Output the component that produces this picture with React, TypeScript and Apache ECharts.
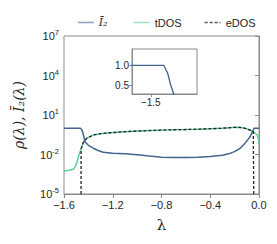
import React, { useEffect, useRef } from "react";
import * as echarts from "echarts";

// ---- data ----
const i2Lambda = [-1.6, -1.465, -1.455, -1.447, -1.439, -1.428, -1.4, -1.36, -1.32, -1.278, -1.2, -1.1, -1.0, -0.9, -0.8, -0.7, -0.6, -0.5, -0.4, -0.3, -0.25, -0.2, -0.15, -0.115, -0.09, -0.074, -0.06, -0.047, -0.04, 0.0];
const i2Values = [1.0, 1.0, 0.8, 0.5, 0.27, 0.093, 0.05, 0.03, 0.02, 0.015, 0.0126, 0.0115, 0.0095, 0.0076, 0.0063, 0.0059, 0.0058, 0.0062, 0.0071, 0.0089, 0.0112, 0.0166, 0.032, 0.071, 0.14, 0.22, 0.4, 0.72, 1.0, 1.0];

const tdosLambda = [-1.6, -1.56, -1.524, -1.51, -1.496, -1.482, -1.463, -1.442, -1.414, -1.36, -1.3, -1.223, -1.1, -1.0, -0.9, -0.8, -0.7, -0.6, -0.5, -0.4, -0.3, -0.2, -0.15, -0.115, -0.074, -0.047, -0.03, -0.016, -0.005, 0.0];
const tdosValues = [5.6e-4, 6.3e-4, 7.6e-4, 1.1e-3, 2.1e-3, 6.8e-3, 0.022, 0.083, 0.17, 0.3, 0.38, 0.45, 0.54, 0.6, 0.66, 0.71, 0.76, 0.79, 0.83, 0.91, 0.98, 1.15, 1.12, 0.98, 0.72, 0.54, 0.42, 0.3, 0.16, 0.074];

const edosLambda = [-1.46, -1.46, -1.442, -1.414, -1.36, -1.3, -1.223, -1.1, -1.0, -0.9, -0.8, -0.7, -0.6, -0.5, -0.4, -0.3, -0.2, -0.15, -0.115, -0.074, -0.047, -0.043, -0.043];
const edosValues = [1e-5, 0.025, 0.083, 0.17, 0.3, 0.38, 0.45, 0.54, 0.6, 0.66, 0.71, 0.76, 0.79, 0.83, 0.91, 0.98, 1.15, 1.12, 0.98, 0.72, 0.54, 0.5, 1e-5];

const yTickValues = [1e-5, 1e-2, 1e1, 1e4, 1e7];
const xTickValues = [-1.6, -1.2, -0.8, -0.4, 0.0];
const insetYTicks = [0.5, 1.0];
const insetXTicks = [-1.5];

const seriesNames = ["Ī₂", "tDOS", "eDOS"];

const zip = (a: number[], b: number[]) => a.map((x, i) => [x, b[i]]);

const BLUE = "#46628f";
const GREEN = "#5ccf97";
const AXIS = "#8a8a8a";
const TEXT = "#262626";
const SANS = "'Liberation Sans', Arial, sans-serif";
const SERIF = "'DejaVu Serif', 'Liberation Serif', serif";

const fmtDec = (v: number) => (Math.abs(v) < 1e-9 ? "0.0" : v.toFixed(1).replace("-", "−"));

export default function App() {
  const ref = useRef<HTMLDivElement>(null);
  useEffect(() => {
    if (!ref.current) return;
    const chart = echarts.init(ref.current, null, { renderer: "svg" });
    const i2Data = zip(i2Lambda, i2Values);
    const legendBase = { top: 12, itemWidth: 16, itemHeight: 10, itemStyle: { opacity: 0 } };
    const option: any = {
      animation: false,
      backgroundColor: "#ffffff",
      legend: [
        {
          ...legendBase, left: 72,
          data: [{ name: seriesNames[0], textStyle: { fontFamily: SERIF, fontStyle: "italic", fontSize: 11, color: TEXT } }],
          lineStyle: { color: "#8fa0c0", width: 1.5 },
        },
        {
          ...legendBase, left: 128,
          data: [seriesNames[1]], textStyle: { fontFamily: SANS, fontSize: 11, color: TEXT },
          lineStyle: { color: "#a3e3c3", width: 1.5 },
        },
        {
          ...legendBase, left: 199,
          data: [seriesNames[2]], textStyle: { fontFamily: SANS, fontSize: 11, color: TEXT },
          lineStyle: { color: "#555555", width: 1.3 },
        },
      ],
      grid: [
        { left: 64, right: 18, top: 36, bottom: 50, show: true, borderColor: AXIS, borderWidth: 1 },
        { left: 132, width: 65, top: 49, height: 45, show: true, borderColor: AXIS, borderWidth: 1 },
      ],
      xAxis: [
        {
          type: "value", gridIndex: 0, min: -1.6, max: 0,
          name: "λ", nameLocation: "middle", nameGap: 23,
          nameTextStyle: { fontFamily: SERIF, fontSize: 15, color: TEXT },
          axisLine: { show: true, onZero: false, lineStyle: { color: AXIS } },
          axisTick: { show: true, length: 4, lineStyle: { color: AXIS }, customValues: xTickValues },
          axisLabel: { fontFamily: SANS, fontSize: 11, color: TEXT, margin: 5, formatter: fmtDec, customValues: xTickValues },
          splitLine: { show: false },
        },
        {
          type: "value", gridIndex: 1, min: -1.55, max: -1.377,
          axisLine: { show: true, onZero: false, lineStyle: { color: AXIS } },
          axisTick: { show: true, length: 3, lineStyle: { color: AXIS }, customValues: insetXTicks },
          axisLabel: { fontFamily: SANS, fontSize: 10, color: TEXT, margin: 3, formatter: fmtDec, customValues: insetXTicks },
          splitLine: { show: false },
        },
      ],
      yAxis: [
        {
          type: "log", gridIndex: 0, min: 1e-5, max: 1e7, logBase: 10,
          name: "ρ(λ), Ī₂(λ)", nameLocation: "middle", nameGap: 38, nameRotate: 90,
          nameTextStyle: { fontFamily: SERIF, fontStyle: "italic", fontSize: 14, color: TEXT },
          axisLine: { show: true, lineStyle: { color: AXIS } },
          axisTick: { show: true, length: 4, lineStyle: { color: AXIS }, customValues: yTickValues },
          axisLabel: {
            fontFamily: SANS, fontSize: 11, color: TEXT, margin: 5, customValues: yTickValues,
            formatter: (v: number) => `{b|10}{s|${Math.round(Math.log10(v))}}`,
            rich: {
              b: { fontFamily: SANS, fontSize: 11, color: TEXT },
              s: { fontFamily: SANS, fontSize: 7.5, color: TEXT, padding: [0, 0, 7, 0] },
            },
          },
          splitLine: { show: false },
        },
        {
          type: "value", gridIndex: 1, min: 0.27, max: 1.42,
          axisLine: { show: true, lineStyle: { color: AXIS } },
          axisTick: { show: true, length: 3, lineStyle: { color: AXIS }, customValues: insetYTicks },
          axisLabel: { fontFamily: SANS, fontSize: 10, color: TEXT, margin: 3, formatter: (v: number) => v.toFixed(1), customValues: insetYTicks },
          splitLine: { show: false },
        },
      ],
      series: [
        {
          name: seriesNames[1], type: "line", xAxisIndex: 0, yAxisIndex: 0, symbol: "none", clip: true,
          data: zip(tdosLambda, tdosValues),
          lineStyle: { color: GREEN, width: 1.5 }, itemStyle: { color: GREEN }, z: 2,
        },
        {
          name: seriesNames[0], type: "line", xAxisIndex: 0, yAxisIndex: 0, symbol: "none", clip: true,
          data: i2Data,
          lineStyle: { color: BLUE, width: 1.5 }, itemStyle: { color: BLUE }, z: 3,
        },
        {
          name: seriesNames[2], type: "line", xAxisIndex: 0, yAxisIndex: 0, symbol: "none", clip: true,
          data: zip(edosLambda, edosValues),
          lineStyle: { color: "#222222", width: 1.3, type: [3, 2] }, itemStyle: { color: "#222222" }, z: 4,
        },
        {
          name: "inset", type: "line", xAxisIndex: 1, yAxisIndex: 1, symbol: "none", clip: true,
          data: i2Data,
          lineStyle: { color: BLUE, width: 1.3 }, itemStyle: { color: BLUE }, z: 3,
        },
      ],
    };
    chart.setOption(option);
    return () => chart.dispose();
  }, []);
  return (
    <div
      ref={ref}
      style={{ position: "absolute", left: 0, top: 0, width: 277, height: 244 }}
    />
  );
}
